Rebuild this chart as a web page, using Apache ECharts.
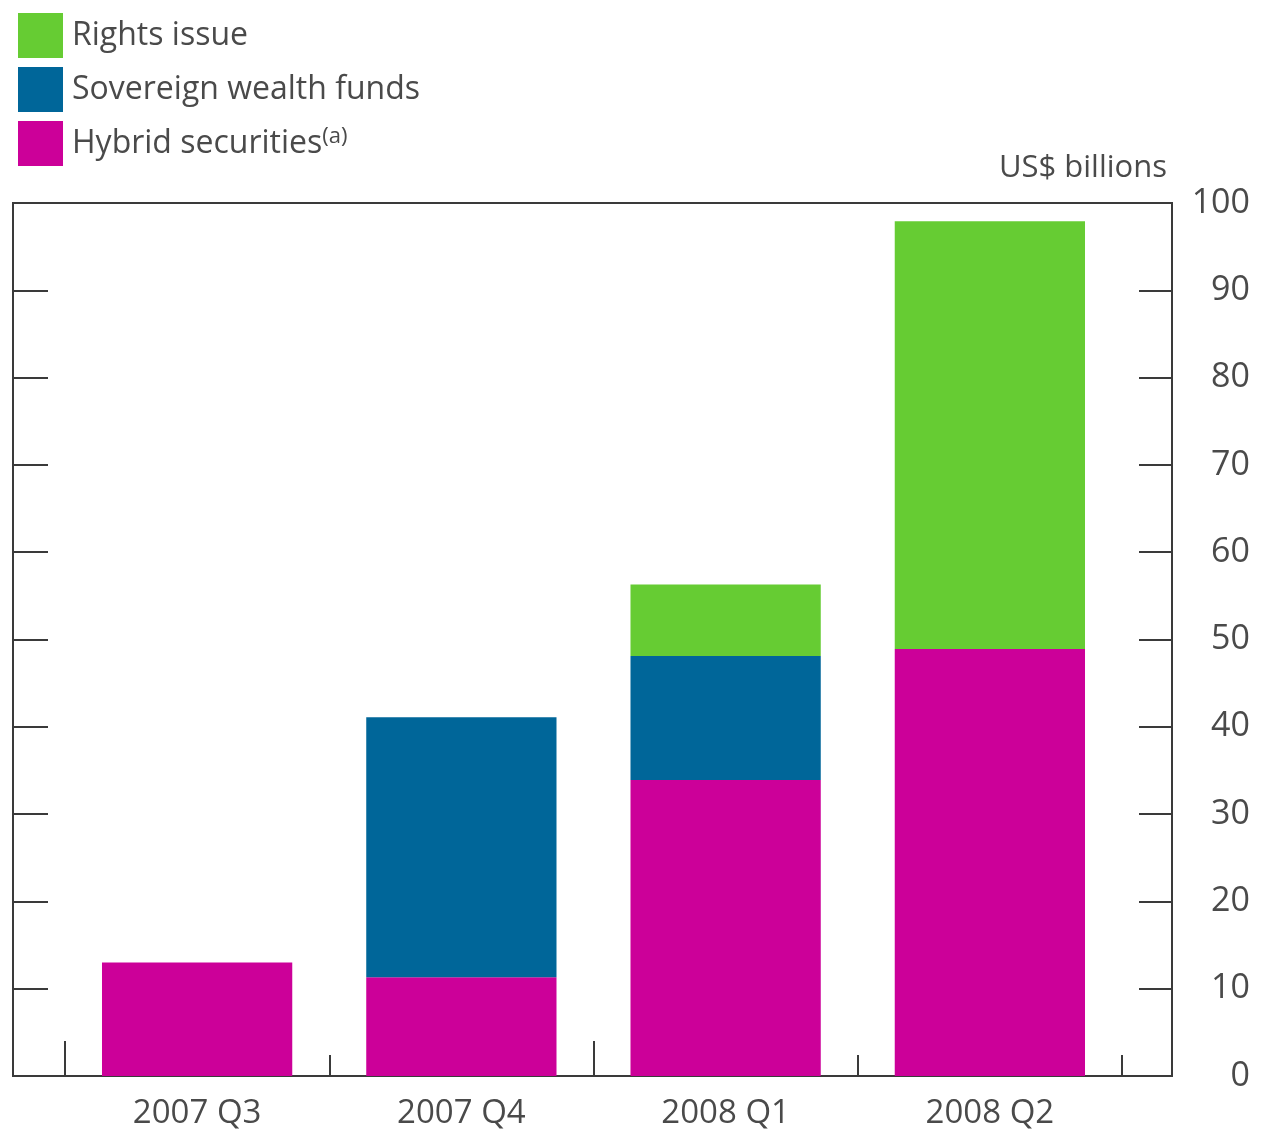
<!DOCTYPE html>
<html>
<head>
<meta charset="utf-8">
<script src="https://cdn.jsdelivr.net/npm/echarts@6/dist/echarts.min.js"></script>
<style>
html,body{margin:0;padding:0;background:#fff;}
#chart{width:1264px;height:1130px;}
</style>
</head>
<body>
<div id="chart"></div>
<script>
// ---- data ----
const categories = ['2007 Q3', '2007 Q4', '2008 Q1', '2008 Q2'];
const hybridSecurities = [13, 11.3, 33.9, 48.9];
const sovereignWealthFunds = [0, 29.8, 14.2, 0];
const rightsIssue = [0, 0, 8.2, 49];
const yTicks = [0, 10, 20, 30, 40, 50, 60, 70, 80, 90, 100];
const yearBoundaries = [0, 2]; // category boundaries where a new year starts
const unitLabel = 'US$ billions';

const FONT = '"Open Sans", "Noto Sans", sans-serif';
const TEXT = '#4a4a4a';
const LINE = '#3a3a3a';

const chart = echarts.init(document.getElementById('chart'), null, {renderer: 'canvas'});

const yBase = {type: 'value', min: 0, max: 100, interval: 10, splitLine: {show: false}};

chart.setOption({
  backgroundColor: '#ffffff',
  animation: false,
  title: {
    text: unitLabel,
    right: 92,
    top: 148,
    textStyle: {fontFamily: FONT, fontSize: 31, fontWeight: 'normal', color: TEXT}
  },
  legend: {
    data: ['Rights issue', 'Sovereign wealth funds', 'Hybrid securities'],
    orient: 'vertical',
    left: 13,
    top: 8,
    icon: 'rect',
    itemWidth: 45,
    itemHeight: 45,
    itemGap: 9,
    selectedMode: false,
    textStyle: {
      fontFamily: FONT,
      fontSize: 32,
      color: TEXT,
      padding: [0, 0, 0, 4],
      rich: {
        n: {fontFamily: FONT, fontSize: 32, color: TEXT},
        s: {fontFamily: FONT, fontSize: 22, color: TEXT, verticalAlign: 'top', padding: [0, 0, 14, 0]}
      }
    },
    formatter: function (name) {
      if (name === 'Hybrid securities') return '{n|Hybrid securities}{s|(a)}';
      return name;
    }
  },
  grid: [
    {left: 13, right: 92, top: 203, bottom: 54, show: true, borderColor: LINE, borderWidth: 2,
     backgroundColor: 'transparent', containLabel: false, outerBoundsMode: 'none'},
    {left: 65, right: 142, top: 203, bottom: 54, containLabel: false, outerBoundsMode: 'none'}
  ],
  xAxis: [
    {type: 'value', gridIndex: 0, show: false, min: 0, max: 1},
    {
      type: 'category',
      gridIndex: 1,
      data: categories,
      boundaryGap: true,
      axisLine: {show: false},
      axisTick: {show: true, inside: true, length: 21, lineStyle: {color: LINE, width: 2}},
      axisLabel: {fontFamily: FONT, fontSize: 33, color: TEXT, margin: 21}
    },
    {
      type: 'value',
      gridIndex: 1,
      position: 'bottom',
      min: 0,
      max: categories.length,
      axisLine: {show: false},
      splitLine: {show: false},
      axisLabel: {show: false},
      axisTick: {show: true, inside: true, length: 35, customValues: yearBoundaries, lineStyle: {color: LINE, width: 2}}
    }
  ],
  yAxis: [
    Object.assign({}, yBase, {
      gridIndex: 0,
      position: 'left',
      axisLine: {show: false},
      axisLabel: {show: false},
      axisTick: {show: true, inside: true, length: 35, lineStyle: {color: LINE, width: 2}}
    }),
    Object.assign({}, yBase, {
      gridIndex: 0,
      position: 'right',
      axisLine: {show: false},
      axisTick: {show: true, inside: true, length: 33, lineStyle: {color: LINE, width: 2}},
      axisLabel: {fontFamily: FONT, fontSize: 34, color: TEXT, align: 'right', margin: 78,
        formatter: function (v) { return yTicks.indexOf(v) >= 0 ? String(v) : ''; }}
    }),
    Object.assign({}, yBase, {gridIndex: 1, show: false})
  ],
  series: [
    {
      name: 'Hybrid securities', type: 'bar', stack: 'total',
      xAxisIndex: 1, yAxisIndex: 2, barWidth: '72%',
      itemStyle: {color: '#CC0099'}, data: hybridSecurities
    },
    {
      name: 'Sovereign wealth funds', type: 'bar', stack: 'total',
      xAxisIndex: 1, yAxisIndex: 2, barWidth: '72%',
      itemStyle: {color: '#006699'}, data: sovereignWealthFunds
    },
    {
      name: 'Rights issue', type: 'bar', stack: 'total',
      xAxisIndex: 1, yAxisIndex: 2, barWidth: '72%',
      itemStyle: {color: '#66CC33'}, data: rightsIssue
    }
  ]
});
</script>
</body>
</html>
